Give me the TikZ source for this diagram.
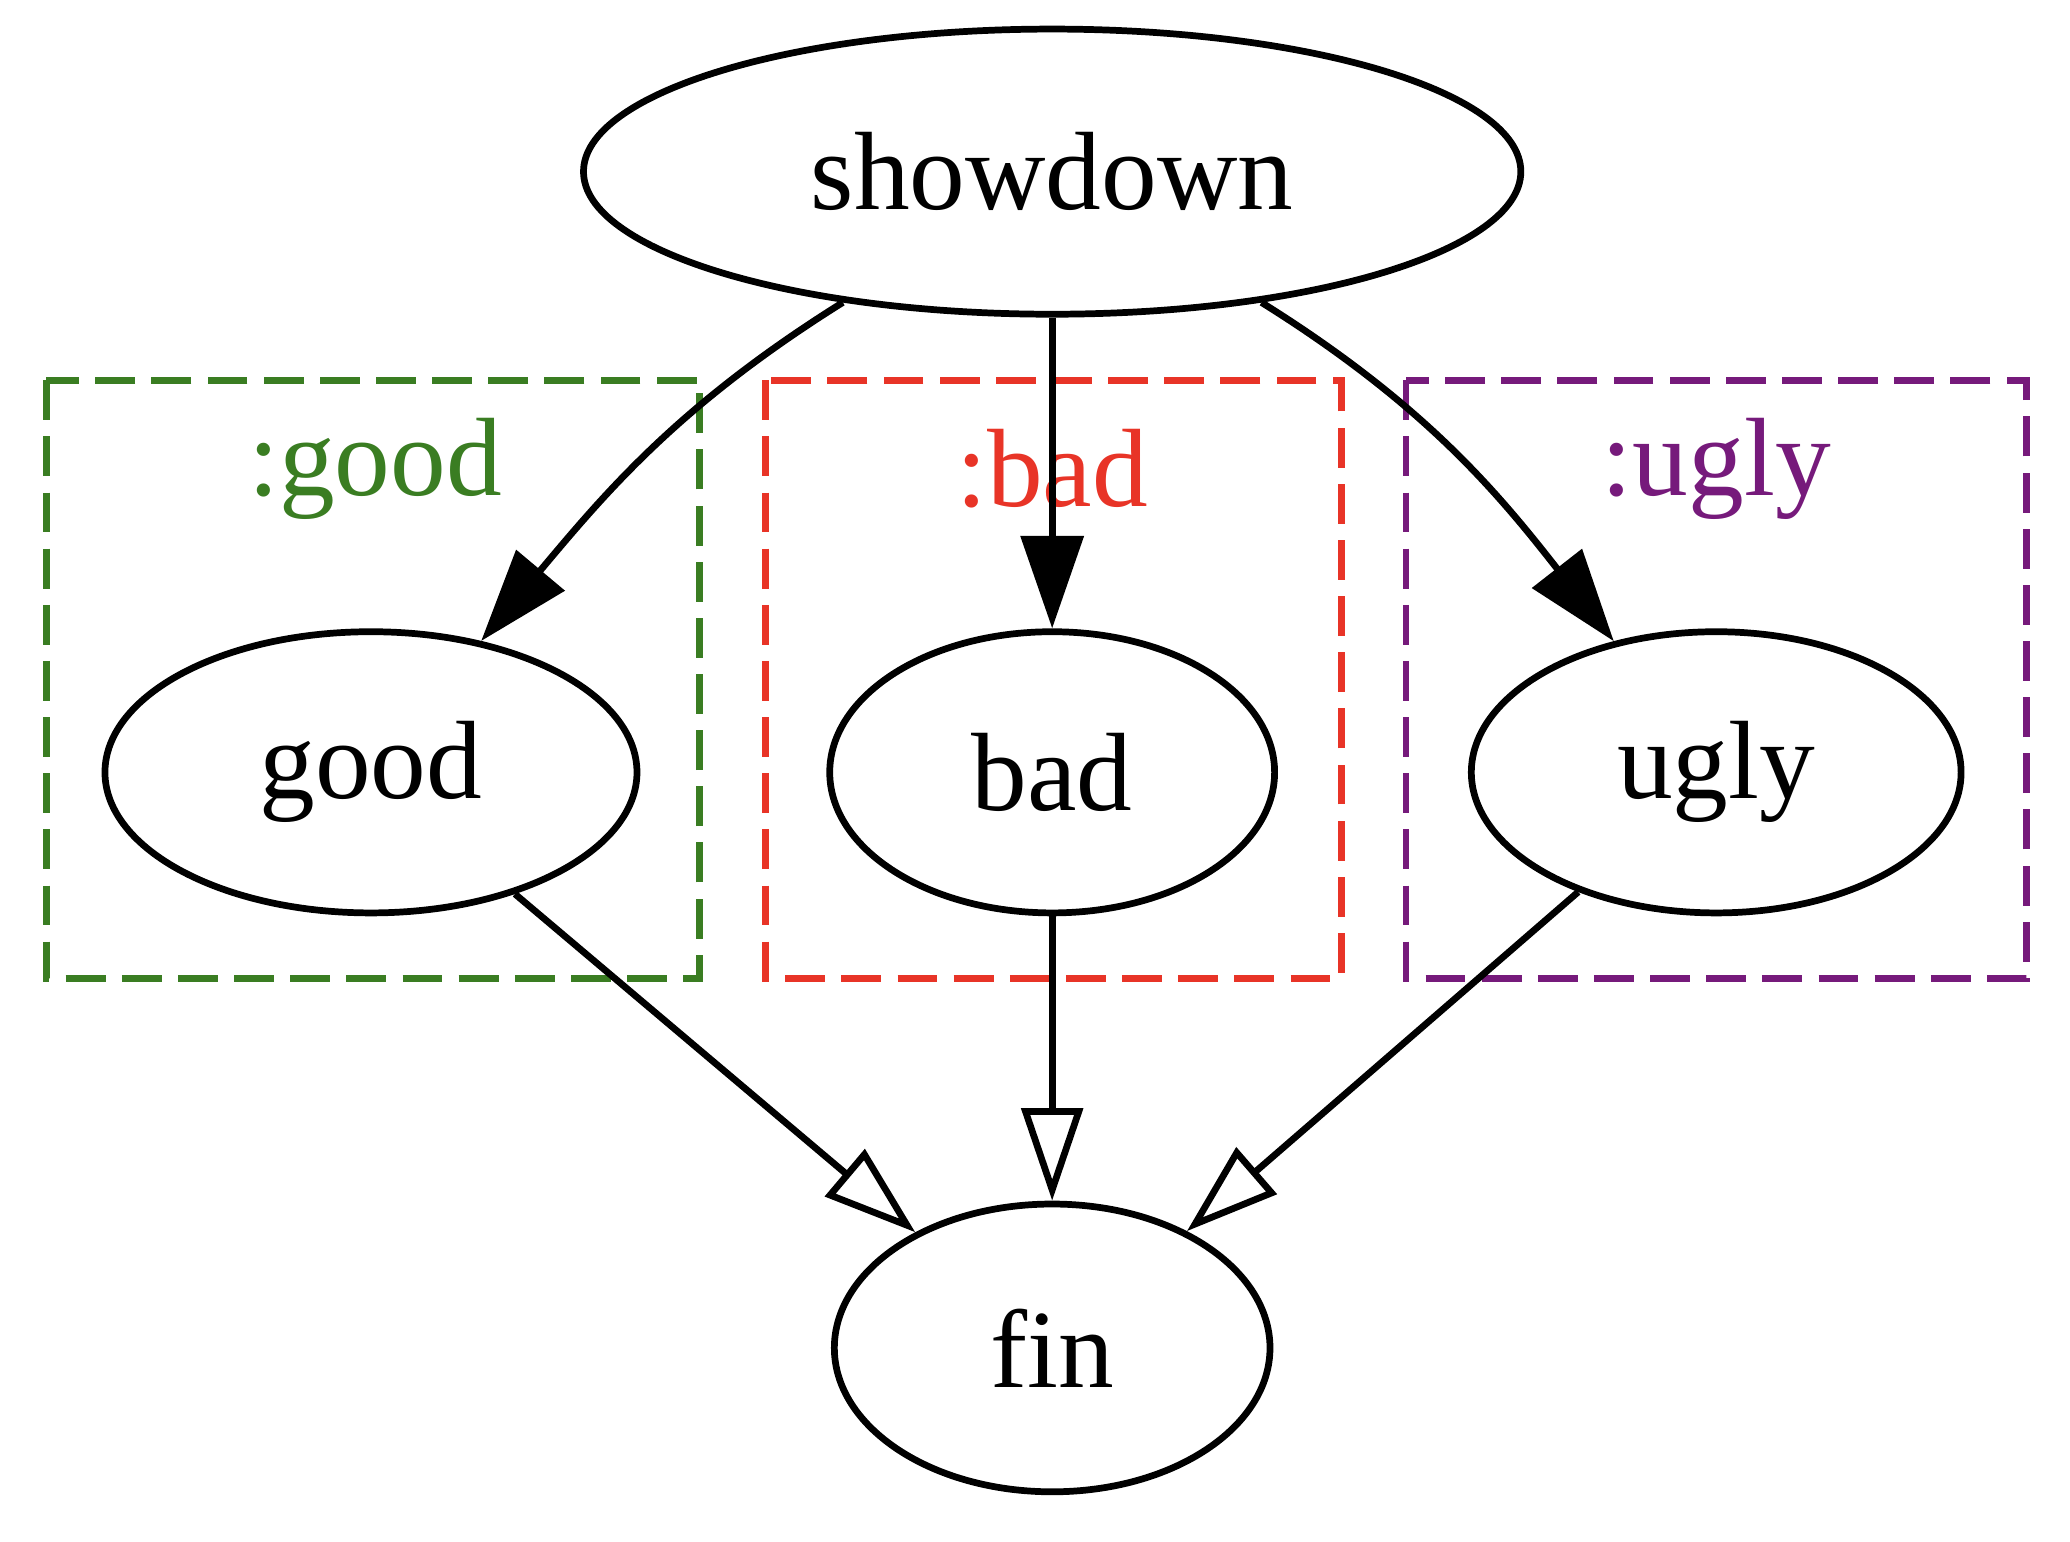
\documentclass[tikz,border=0pt]{standalone}
\usepackage{fontspec}
\setmainfont{Liberation Serif}
\usetikzlibrary{arrows.meta,shapes.geometric}
\definecolor{goodc}{HTML}{3A7D22}
\definecolor{badc}{HTML}{E83427}
\definecolor{uglyc}{HTML}{761A7B}
\begin{document}
\begin{tikzpicture}[line width=1.45pt,font=\fontsize{24}{28}\selectfont,
    st/.style={draw,ellipse,inner sep=0pt},
    clu/.style={draw,dash pattern=on 8.6pt off 3.5pt},
    arj/.style={-{Triangle[length=0.7cm,width=0.47cm]}},
    aro/.style={-{Triangle[open,length=0.7cm,width=0.46cm]}}]
  \useasboundingbox (0,0) rectangle (15.68,-11.68);
  % clusters
  \draw[clu,goodc] (0.35,-2.88) rectangle (5.30,-7.41);
  \draw[clu,badc] (5.80,-2.88) rectangle (10.16,-7.41);
  \draw[clu,uglyc] (10.65,-2.88) rectangle (15.35,-7.41);
  \node[text=goodc] (lgood) at (2.84,-3.55) {:good};
  \node[text=badc] (lbad) at (7.97,-3.55) {:bad};
  \node[text=uglyc] (lugly) at (13.00,-3.55) {:ugly};
  % states
  \node[st,minimum width=7.10cm,minimum height=2.16cm] (sd) at (7.97,-1.30) {showdown};
  \node[st,minimum width=4.03cm,minimum height=2.13cm] (good) at (2.81,-5.85) {good};
  \node[st,minimum width=3.37cm,minimum height=2.13cm] (bad) at (7.97,-5.85) {bad};
  \node[st,minimum width=3.71cm,minimum height=2.13cm] (ugly) at (13.00,-5.85) {ugly};
  \node[st,minimum width=3.30cm,minimum height=2.18cm] (fin) at (7.97,-10.21) {fin};
  \draw[arj] (sd) to[out=-148,in=50] (good);
  \draw[arj] (sd) -- (bad);
  \draw[arj] (sd) to[out=-32,in=128] (ugly);
  \draw[aro] (good) -- (fin);
  \draw[aro] (bad) -- (fin);
  \draw[aro] (ugly) -- (fin);
\end{tikzpicture}
\end{document}
